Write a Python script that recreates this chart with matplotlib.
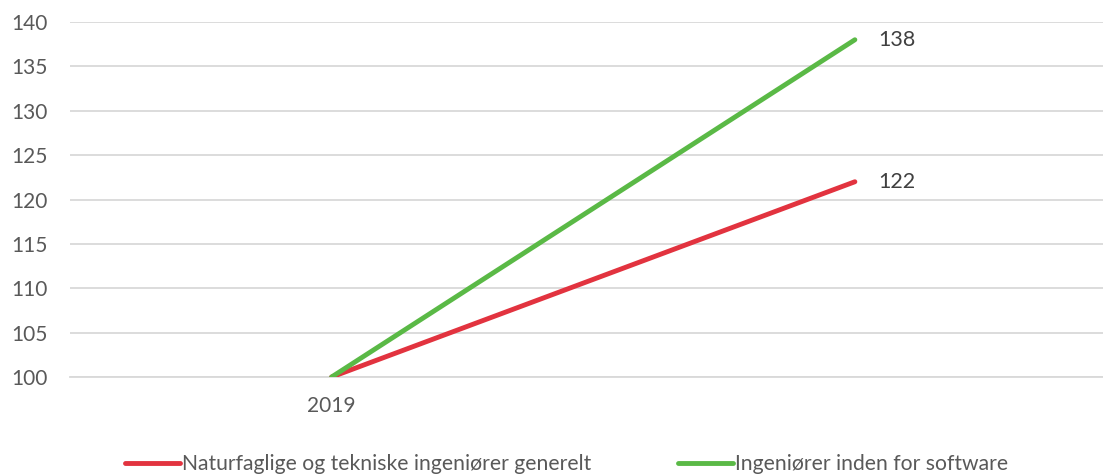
import matplotlib.pyplot as plt

plt.rcParams['font.family'] = ['Lato', 'DejaVu Sans']

categories = ['2019', '']
general = [100, 122]
software = [100, 138]
series_names = ['Naturfaglige og tekniske ingeniører generelt', 'Ingeniører inden for software']
yticks = [100, 105, 110, 115, 120, 125, 130, 135, 140]

red = '#E2333F'
green = '#5AB946'
txt = '#595959'

fig = plt.figure(figsize=(11.03, 4.74), dpi=100)
ax = fig.add_axes([70 / 1103, 97 / 474, 1046.5 / 1103, 355 / 474])

x = range(len(categories))
ax.plot(x, general, color=red, lw=3.5, solid_capstyle='round', label=series_names[0], zorder=3)
ax.plot(x, software, color=green, lw=3.5, solid_capstyle='round', label=series_names[1], zorder=3)

# labels only at the last point
ax.annotate(str(general[-1]), (1, general[-1]), xytext=(17, 0), textcoords='offset points',
            va='center', ha='left', fontsize=15.5, color='#404040')
ax.annotate(str(software[-1]), (1, software[-1]), xytext=(17, 0), textcoords='offset points',
            va='center', ha='left', fontsize=15.5, color='#404040')

ax.set_xlim(-0.5, 1.5)
ax.set_ylim(100, 140)
ax.set_xticks(list(x))
ax.set_xticklabels(categories)
ax.set_yticks(yticks)
ax.grid(axis='y', color='#D9D9D9', lw=1.3)
ax.set_axisbelow(True)
for s in ['top', 'right', 'left']:
    ax.spines[s].set_visible(False)
ax.spines['bottom'].set_color('#D9D9D9')
ax.spines['bottom'].set_linewidth(1.3)
ax.tick_params(axis='both', length=0, labelsize=15, labelcolor=txt)
ax.tick_params(axis='y', pad=16)
ax.tick_params(axis='x', pad=14)

fig.legend(loc='center left', bbox_to_anchor=(125 / 1103, 1 - 464 / 474), ncol=2, frameon=False,
           fontsize=15.2, labelcolor=txt, handlelength=2.6, handletextpad=0.1, columnspacing=4.1,
           borderpad=0, borderaxespad=0)

fig.savefig('out.png', dpi=100)
